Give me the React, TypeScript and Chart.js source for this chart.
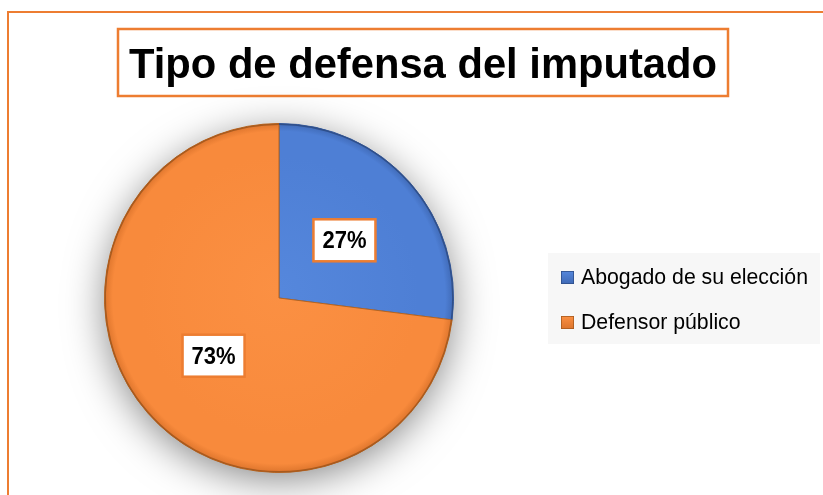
import React, { useEffect, useRef } from "react";
import { Chart, registerables } from "chart.js";
Chart.register(...registerables);

const TITLE = "Tipo de defensa del imputado";
const categories = ["Abogado de su elección", "Defensor público"];
const values = [27, 73];
const percentLabels = ["27%", "73%"];
const baseColors = ["#4E7FD5", "#F88A3C"];
const innerColors = ["#5587DC", "#FB9043"];
const edgeColors = ["#3F69B5", "#DC742C"];
const rimColors = ["#2F4F8A", "#A85A1E"];

const W = 823;
const H = 495;
const FONT = '"Liberation Sans", Arial, sans-serif';
const ORANGE = "#ED7D31";

function drawFitted(ctx: CanvasRenderingContext2D, text: string, x: number, y: number, sx: number, align: "left" | "center") {
  const w = ctx.measureText(text).width;
  ctx.save();
  ctx.translate(x, y);
  ctx.scale(sx, 1);
  ctx.textAlign = "left";
  ctx.textBaseline = "alphabetic";
  ctx.fillText(text, align === "center" ? -w / 2 : 0, 0);
  ctx.restore();
}

const decorPlugin = {
  id: "decor",
  beforeDraw(chart: any) {
    const ctx = chart.ctx as CanvasRenderingContext2D;
    ctx.save();
    ctx.fillStyle = "#ffffff";
    ctx.fillRect(0, 0, W, H);
    // outer frame
    ctx.strokeStyle = ORANGE;
    ctx.lineWidth = 2;
    ctx.strokeRect(8, 12, 1000, 1000);
    // title box
    ctx.lineWidth = 2.5;
    ctx.strokeRect(118, 29, 610, 67);
    ctx.fillStyle = "#000";
    ctx.font = `bold 42px ${FONT}`;
    const tw = ctx.measureText(TITLE).width;
    drawFitted(ctx, TITLE, 423, 78, 588 / tw, "center");
    // legend
    ctx.fillStyle = "#F7F7F7";
    ctx.fillRect(548, 253, 272, 91);
    ctx.font = `22px ${FONT}`;
    const lw = ctx.measureText(categories[0]).width;
    const lsx = 227 / lw;
    const ys = [271, 316];
    categories.forEach((c, i) => {
      const g = ctx.createLinearGradient(561, ys[i], 561, ys[i] + 13);
      g.addColorStop(0, innerColors[i]);
      g.addColorStop(1, edgeColors[i]);
      ctx.fillStyle = g;
      ctx.fillRect(561, ys[i], 13, 13);
      ctx.strokeStyle = rimColors[i];
      ctx.lineWidth = 0.8;
      ctx.strokeRect(561.4, ys[i] + 0.4, 12.2, 12.2);
      ctx.fillStyle = "#000";
      drawFitted(ctx, c, 581, ys[i] + 13, lsx, "left");
    });
    ctx.restore();
  },
  beforeDatasetsDraw(chart: any) {
    const meta = chart.getDatasetMeta(0);
    const arc = meta.data[0];
    if (!arc) return;
    const ctx = chart.ctx as CanvasRenderingContext2D;
    ctx.save();
    ctx.shadowColor = "rgba(0,0,0,0.5)";
    ctx.shadowBlur = 40;
    ctx.shadowOffsetY = 8;
    ctx.fillStyle = "#ffffff";
    ctx.beginPath();
    ctx.arc(arc.x, arc.y, arc.outerRadius - 2, 0, Math.PI * 2);
    ctx.fill();
    ctx.restore();
  },
  afterDatasetsDraw(chart: any) {
    const meta = chart.getDatasetMeta(0);
    const ctx = chart.ctx as CanvasRenderingContext2D;
    ctx.save();
    // rim
    meta.data.forEach((arc: any, i: number) => {
      ctx.beginPath();
      ctx.arc(arc.x, arc.y, arc.outerRadius - 0.7, arc.startAngle, arc.endAngle);
      ctx.strokeStyle = rimColors[i];
      ctx.lineWidth = 1.4;
      ctx.stroke();
    });
    // labels
    ctx.font = `bold 23px ${FONT}`;
    meta.data.forEach((arc: any, i: number) => {
      const p = arc.getCenterPoint();
      const bw = 62, bh = 42;
      ctx.fillStyle = "#ffffff";
      ctx.fillRect(p.x - bw / 2, p.y - bh / 2, bw, bh);
      ctx.strokeStyle = ORANGE;
      ctx.lineWidth = 2.5;
      ctx.strokeRect(p.x - bw / 2, p.y - bh / 2, bw, bh);
      ctx.fillStyle = "#000";
      const w = ctx.measureText(percentLabels[i]).width;
      drawFitted(ctx, percentLabels[i], p.x, p.y + 8, 44 / w, "center");
    });
    ctx.restore();
  },
};

export default function App() {
  const ref = useRef<HTMLCanvasElement>(null);
  useEffect(() => {
    if (!ref.current) return;
    const chart = new Chart(ref.current, {
      type: "pie",
      data: {
        labels: categories,
        datasets: [
          {
            data: values,
            backgroundColor: (c: any) => {
              const ch = c.chart;
              const area = ch.chartArea;
              const i = c.dataIndex;
              if (!area) return baseColors[i];
              const cx = (area.left + area.right) / 2;
              const cy = (area.top + area.bottom) / 2;
              const r = Math.min(area.right - area.left, area.bottom - area.top) / 2;
              const g = ch.ctx.createRadialGradient(cx, cy - 10, 0, cx, cy, r);
              g.addColorStop(0, innerColors[i]);
              g.addColorStop(0.8, baseColors[i]);
              g.addColorStop(0.95, baseColors[i]);
              g.addColorStop(1, edgeColors[i]);
              return g;
            },
            borderColor: ["#3A5E9E", "#B8651F"],
            borderWidth: 1,
          },
        ],
      },
      options: {
        responsive: false,
        animation: false,
        layout: { padding: { left: 104, top: 123, right: 369, bottom: 22 } },
        plugins: {
          legend: { display: false },
          title: { display: false },
          tooltip: { enabled: false },
        },
      },
      plugins: [decorPlugin],
    });
    return () => chart.destroy();
  }, []);
  return (
    <div style={{ position: "fixed", left: 0, top: 0, width: W, height: H, background: "#fff" }}>
      <canvas ref={ref} width={W} height={H} style={{ display: "block", width: W, height: H }} />
    </div>
  );
}
